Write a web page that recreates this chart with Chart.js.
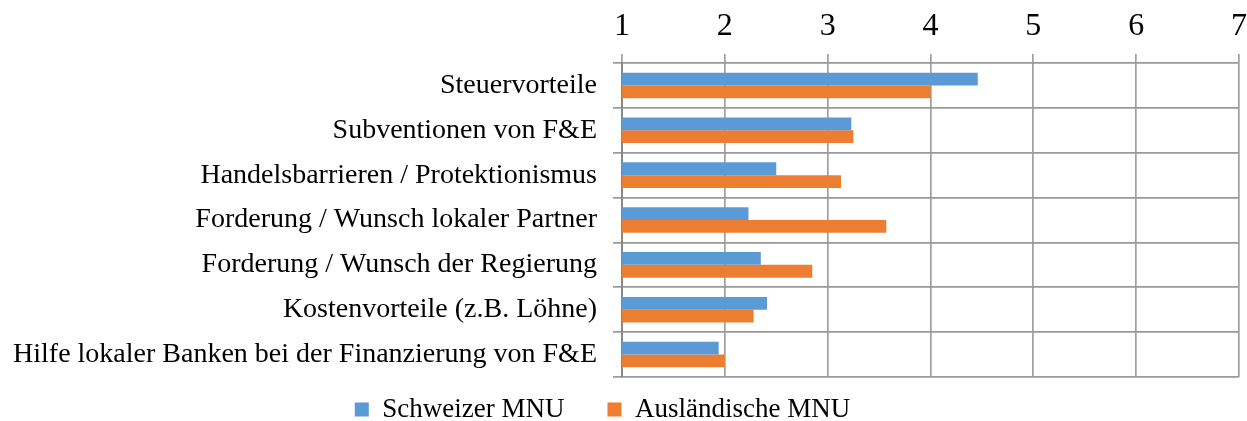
<!DOCTYPE html>
<html>
<head>
<meta charset="utf-8">
<script src="https://cdn.jsdelivr.net/npm/chart.js@4"></script>
<style>
  body { margin: 0; background: #fff; }
</style>
</head>
<body>
<canvas id="myChart" width="1247" height="421"></canvas>
<script>
// Categories (top to bottom)
var categories = [
    'Steuervorteile',
    'Subventionen von F&E',
    'Handelsbarrieren / Protektionismus',
    'Forderung / Wunsch lokaler Partner',
    'Forderung / Wunsch der Regierung',
    'Kostenvorteile (z.B. Löhne)',
    'Hilfe lokaler Banken bei der Finanzierung von F&E'
];

// Series values (scale 1-7)
var schweizerMNU = [4.46, 3.23, 2.50, 2.23, 2.35, 2.41, 1.94];
var auslaendischeMNU = [4.00, 3.25, 3.13, 3.57, 2.85, 2.28, 2.00];

// Value axis ticks
var tickMin = 1;
var tickMax = 7;

var serif = '"Liberation Serif", "Times New Roman", serif';

// Move the legend a bit so it sits where the original had it
var legendShift = {
    id: 'legendShift',
    afterLayout: function(chart) {
        var lg = chart.legend;
        var dx = -17, dy = -24;
        lg.left += dx; lg.right += dx;
        lg.top += dy; lg.bottom += dy;
    }
};

var ctx = document.getElementById('myChart').getContext('2d');
var myChart = new Chart(ctx, {
    type: 'bar',
    data: {
        labels: categories,
        datasets: [{
            label: 'Schweizer MNU',
            data: schweizerMNU,
            backgroundColor: '#5B9BD5'
        }, {
            label: 'Ausländische MNU',
            data: auslaendischeMNU,
            backgroundColor: '#ED7D31'
        }]
    },
    options: {
        indexAxis: 'y',
        responsive: false,
        animation: false,
        layout: { padding: { left: 0, right: 8, top: 0, bottom: -36 } },
        datasets: {
            bar: { categoryPercentage: 0.57, barPercentage: 1.0 }
        },
        scales: {
            x: {
                position: 'top',
                min: tickMin,
                max: tickMax,
                ticks: {
                    stepSize: 1,
                    color: '#000',
                    padding: 8,
                    font: { family: serif, size: 32 }
                },
                grid: { color: '#a0a0a0', lineWidth: 1.7, tickLength: 9 },
                border: { display: false },
                afterFit: function(scale) {
                    scale.height = 63;
                    scale.paddingLeft = 0;
                    scale.paddingRight = 0;
                }
            },
            y: {
                ticks: {
                    color: '#000',
                    padding: 16,
                    font: { family: serif, size: 28 }
                },
                grid: { color: '#999', lineWidth: 1.7, tickLength: 9, offset: true },
                border: { color: '#888', width: 2 },
                afterFit: function(scale) {
                    scale.width = 622;
                    scale.paddingTop = 0;
                    scale.paddingBottom = 0;
                }
            }
        },
        plugins: {
            legend: {
                position: 'bottom',
                labels: {
                    color: '#000',
                    boxWidth: 14,
                    boxHeight: 14,
                    padding: 43,
                    font: { family: serif, size: 27 }
                }
            },
            tooltip: { enabled: false }
        }
    },
    plugins: [legendShift]
});
</script>
</body>
</html>
